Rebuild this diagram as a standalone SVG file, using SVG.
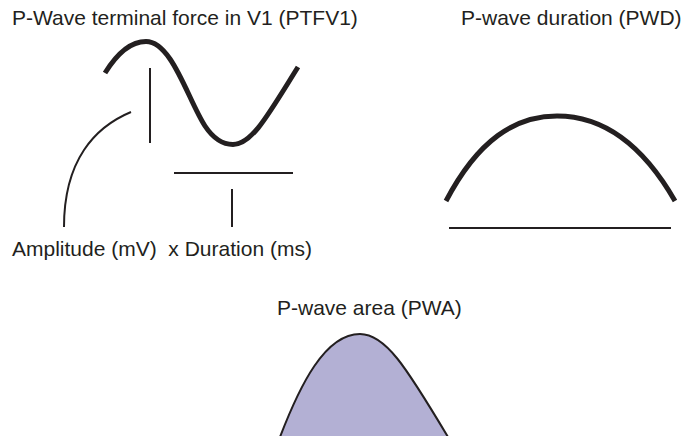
<svg xmlns="http://www.w3.org/2000/svg" width="692" height="436" viewBox="0 0 692 436">
<style>
text{font-family:"Liberation Sans",Arial,sans-serif;font-size:21px;fill:#231f20}
.thick{fill:none;stroke:#231f20;stroke-width:5}
.thin{fill:none;stroke:#231f20;stroke-width:2}
</style>
<rect width="692" height="436" fill="#fff"/>
<g id="ptfv1">
<text x="12" y="25">P-Wave terminal force in V1 (PTFV1)</text>
<path class="thick" d="M105,73 C118,52 132,41.5 146,41.5 C172,41.5 188,100 205,126 C215,141 225,144.5 233,144.5 C252,144.5 268,115 298,67"/>
<line class="thin" x1="150" y1="68" x2="150" y2="143"/>
<line class="thin" x1="174" y1="173" x2="293" y2="173"/>
<line class="thin" x1="232" y1="189" x2="232" y2="227"/>
<path class="thin" d="M131,112 C95,127 64,160 64,227"/>
<text x="12" y="256" xml:space="preserve">Amplitude (mV)  x Duration (ms)</text>
</g>
<g id="pwd">
<text x="461" y="25">P-wave duration (PWD)</text>
<path class="thick" d="M446,201 C478,140 515,116 557,116 C600,116 640,140 675,201"/>
<line class="thin" x1="449" y1="228" x2="671" y2="228"/>
</g>
<g id="pwa">
<text x="277" y="315">P-wave area (PWA)</text>
<path d="M280,437 C300,385 325,334 360,334 C385,334 405,365 448,437" fill="#b3b0d4" stroke="#231f20" stroke-width="2"/>
</g>
</svg>
